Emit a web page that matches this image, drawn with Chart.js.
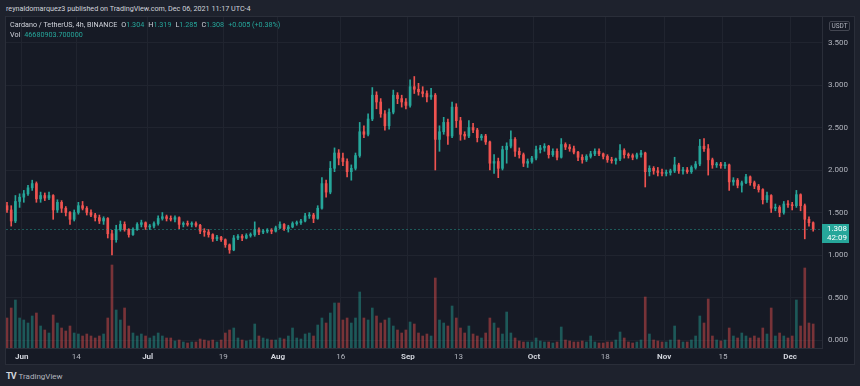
<!DOCTYPE html>
<html>
<head>
<meta charset="utf-8">
<title>ADA/USDT</title>
<script src="https://cdn.jsdelivr.net/npm/chart.js@4.4.0/dist/chart.umd.min.js"></script>
<style>
  html, body { margin: 0; padding: 0; background: #1e222d; }
  body { width: 860px; height: 386px; position: relative; overflow: hidden; font-family: Roboto, "Open Sans", sans-serif; }
  #pane { position: absolute; left: 5px; top: 16px; width: 850px; height: 349px; box-sizing: border-box; background: #161a25; border: 1px solid #2a2e39; }
  #chart { position: absolute; left: 6px; top: 17px; }
  .hdr { position: absolute; left: 6px; top: 4px; font-size: 7.2px; color: #d1d4dc; white-space: nowrap; }
  .legend { position: absolute; left: 10px; top: 20px; font-size: 7.2px; line-height: 10px; color: #d1d4dc; white-space: nowrap; }
  .legend .v { color: #26a69a; }
  .legend .g { margin-left: 4px; }
  .usdt { position: absolute; left: 829px; top: 21px; width: 19px; height: 8px; border: 1px solid #434651; border-radius: 2px; font-size: 6.5px; line-height: 8px; text-align: center; color: #b2b5be; }
  .brand { position: absolute; left: 6px; top: 371px; font-size: 8px; color: #b2b5be; white-space: nowrap; }
  .brand b { color: #d1d4dc; font-size: 9px; letter-spacing: -1px; margin-right: 3px; }
</style>
</head>
<body>
<div id="pane"></div>
<canvas id="chart" width="848" height="347"></canvas>
<div class="hdr">reynaldomarquez3 published on TradingView.com, Dec 06, 2021 11:17 UTC-4</div>
<div class="legend">
  <div>Cardano / TetherUS, 4h, BINANCE<span class="g">O</span><span class="v">1.304</span><span class="g">H</span><span class="v">1.319</span><span class="g">L</span><span class="v">1.285</span><span class="g">C</span><span class="v">1.308</span><span class="v g">+0.005 (+0.38%)</span></div>
  <div>Vol<span class="v g">46680903.700000</span></div>
</div>
<div class="usdt">USDT</div>
<div class="brand"><b>TV</b>TradingView</div>
<script>
// daily candles, first one is May 28 2021 (day -4 counted from Jun 1)
const firstDay = -4;

const opens = [
  1.58,1.53,1.40,1.63,1.68,1.72,1.79,1.84,1.66,1.70, 1.67,1.70,1.53,1.62,1.55,1.50,1.42,1.50,1.58,1.55,
  1.50,1.47,1.44,1.40,1.43,1.25,1.18,1.30,1.36,1.30, 1.24,1.30,1.36,1.38,1.33,1.34,1.37,1.43,1.45,1.43,
  1.42,1.44,1.36,1.37,1.36,1.37,1.35,1.28,1.27,1.24, 1.19,1.21,1.18,1.12,1.06,1.20,1.22,1.20,1.23,1.24,
  1.30,1.27,1.28,1.29,1.28,1.32,1.36,1.31,1.33,1.37, 1.38,1.40,1.46,1.47,1.43,1.55,1.84,1.74,2.02,
  2.20,2.14,2.10,1.98,2.02,2.17,2.45,2.42,2.60,2.88, 2.80,2.66,2.52,2.68,2.88,2.84,2.80,2.76,2.98,2.95,
  2.92,2.90,2.86,2.88,2.36,2.45,2.56,2.40,2.74,2.58, 2.42,2.40,2.50,2.47,2.38,2.40,2.33,2.08,2.10,
  2.02,2.24,2.28,2.36,2.22,2.18,2.08,2.10,2.14,2.24, 2.26,2.28,2.18,2.22,2.15,2.30,2.27,2.25,2.21,2.15,
  2.12,2.16,2.19,2.22,2.19,2.16,2.12,2.11,2.13,2.23, 2.18,2.17,2.15,2.18,2.20,1.98,2.02,1.99,1.97,
  1.96,1.97,1.99,2.06,1.99,2.00,1.98,2.03,2.07,2.28, 2.25,2.12,2.06,2.07,2.05,2.06,1.86,1.88,1.82,1.85,
  1.92,1.85,1.81,1.77,1.65,1.70,1.55,1.56,1.50,1.60, 1.59,1.58,1.71,1.58,1.42,1.38
];
const highs = [
  1.62,1.58,1.70,1.72,1.76,1.82,1.88,1.86,1.74,1.73, 1.74,1.71,1.65,1.64,1.57,1.51,1.53,1.62,1.63,1.57,
  1.53,1.49,1.47,1.45,1.44,1.29,1.35,1.40,1.39,1.31, 1.32,1.38,1.41,1.39,1.36,1.39,1.46,1.50,1.47,1.46,
  1.46,1.45,1.39,1.40,1.39,1.39,1.36,1.31,1.30,1.25, 1.23,1.22,1.19,1.13,1.23,1.24,1.24,1.25,1.26,1.39,
  1.32,1.30,1.31,1.31,1.34,1.39,1.37,1.35,1.39,1.40, 1.42,1.49,1.50,1.49,1.58,1.91,1.88,2.10,2.26,
  2.24,2.20,2.13,2.06,2.20,2.56,2.52,2.66,2.97,2.92, 2.84,2.70,2.72,2.94,2.91,2.88,2.84,3.06,3.10,3.02,
  2.98,2.93,2.96,2.90,2.52,2.62,2.60,2.80,2.78,2.62, 2.45,2.58,2.55,2.49,2.42,2.42,2.34,2.18,2.14,
  2.28,2.32,2.46,2.38,2.26,2.20,2.13,2.16,2.28,2.29, 2.31,2.29,2.25,2.25,2.37,2.32,2.30,2.28,2.22,2.18,
  2.18,2.22,2.25,2.25,2.20,2.18,2.15,2.14,2.30,2.25, 2.20,2.19,2.20,2.23,2.21,2.05,2.04,2.03,2.01,
  2.00,2.01,2.15,2.08,2.03,2.03,2.05,2.10,2.36,2.37, 2.30,2.14,2.09,2.09,2.09,2.07,1.91,1.90,1.87,1.95,
  1.93,1.87,1.83,1.78,1.74,1.71,1.60,1.58,1.63,1.64, 1.62,1.76,1.72,1.60,1.45,1.39
];
const lows = [
  1.50,1.34,1.38,1.56,1.62,1.70,1.76,1.62,1.62,1.64, 1.65,1.42,1.50,1.50,1.46,1.36,1.40,1.48,1.53,1.47,
  1.45,1.40,1.37,1.36,1.20,1.00,1.15,1.28,1.28,1.21, 1.23,1.29,1.33,1.30,1.30,1.32,1.35,1.41,1.40,1.40,
  1.39,1.31,1.33,1.34,1.33,1.33,1.25,1.22,1.21,1.16, 1.17,1.16,1.09,1.02,1.05,1.18,1.17,1.19,1.21,1.22,
  1.24,1.25,1.26,1.25,1.27,1.31,1.29,1.27,1.32,1.35, 1.36,1.39,1.43,1.38,1.42,1.54,1.68,1.72,1.98,
  2.06,2.05,1.92,1.88,2.00,2.15,2.38,2.40,2.58,2.72, 2.62,2.47,2.48,2.66,2.78,2.74,2.72,2.74,2.90,2.88,
  2.86,2.80,2.83,2.00,2.22,2.42,2.30,2.38,2.50,2.35, 2.36,2.38,2.44,2.33,2.35,2.30,2.00,1.96,1.91,
  2.00,2.08,2.26,2.16,2.14,2.04,2.03,2.08,2.12,2.20, 2.22,2.14,2.16,2.12,2.14,2.24,2.22,2.19,2.11,2.08,
  2.10,2.14,2.17,2.17,2.13,2.09,2.08,2.07,2.11,2.14, 2.14,2.12,2.13,2.15,1.80,1.93,1.95,1.93,1.93,
  1.93,1.94,1.97,1.96,1.95,1.96,1.96,2.01,2.05,2.22, 1.94,2.02,2.03,2.02,2.02,1.76,1.82,1.79,1.74,1.84,
  1.82,1.78,1.74,1.60,1.62,1.50,1.52,1.45,1.48,1.56, 1.53,1.56,1.52,1.19,1.34,1.28
];
const closes = [
  1.53,1.40,1.63,1.68,1.72,1.79,1.84,1.66,1.70,1.67, 1.70,1.53,1.62,1.55,1.50,1.42,1.50,1.58,1.55,1.50,
  1.47,1.44,1.40,1.43,1.25,1.18,1.30,1.36,1.30,1.24, 1.30,1.36,1.38,1.33,1.34,1.37,1.43,1.45,1.43,1.42,
  1.44,1.36,1.37,1.36,1.37,1.35,1.28,1.27,1.24,1.19, 1.21,1.18,1.12,1.06,1.20,1.22,1.20,1.23,1.24,1.30,
  1.27,1.28,1.29,1.28,1.32,1.36,1.31,1.33,1.37,1.38, 1.40,1.46,1.47,1.43,1.55,1.84,1.74,2.02,2.20,
  2.14,2.10,1.98,2.02,2.17,2.45,2.42,2.60,2.88,2.80, 2.66,2.52,2.68,2.88,2.84,2.80,2.76,2.98,2.95,2.92,
  2.90,2.86,2.88,2.36,2.45,2.56,2.40,2.74,2.58,2.42, 2.40,2.50,2.47,2.38,2.40,2.33,2.08,2.10,2.02,
  2.24,2.28,2.36,2.22,2.18,2.08,2.10,2.14,2.24,2.26, 2.28,2.18,2.22,2.15,2.30,2.27,2.25,2.21,2.15,2.12,
  2.16,2.19,2.22,2.19,2.16,2.12,2.11,2.13,2.23,2.18, 2.17,2.15,2.18,2.20,1.98,2.02,1.99,1.97,1.96,
  1.97,1.99,2.06,1.99,2.00,1.98,2.03,2.07,2.28,2.25, 2.12,2.06,2.07,2.05,2.06,1.86,1.88,1.82,1.85,1.92,
  1.85,1.81,1.77,1.65,1.70,1.55,1.56,1.50,1.60,1.59, 1.58,1.71,1.58,1.42,1.38,1.308
];
// volume in millions
const volumes = [
  150,200,240,150,140,125,160,175,110,90, 75,165,125,100,85,110,75,70,60,70,
  60,50,60,70,150,415,190,140,200,110, 75,60,70,60,50,60,75,60,50,50,
  35,40,30,25,30,30,45,40,35,40, 30,40,75,90,100,50,40,35,40,120,
  60,50,45,40,40,50,45,60,100,50, 45,70,75,60,115,150,125,175,225,
  225,140,150,125,150,280,150,140,200,160, 125,140,150,110,90,75,90,130,120,75,
  60,70,60,350,140,125,110,210,150,100, 75,110,70,60,50,75,150,125,100,
  70,180,75,50,35,30,30,30,50,35, 30,30,25,30,105,40,35,30,30,35,
  30,60,30,25,25,30,30,40,80,50, 30,25,30,40,255,70,40,35,30,
  30,40,110,40,30,30,40,60,160,125, 245,60,40,35,40,100,60,50,75,60,
  50,60,50,100,70,200,60,75,60,50, 60,240,110,400,125,120
];

// time axis: days from Jun 1
const tickDays = [0, 13, 30, 48, 61, 76, 92, 104, 122, 139, 153, 167, 183];
const tickLabels = ['Jun', '14', 'Jul', '19', 'Aug', '16', 'Sep', '13', 'Oct', '18', 'Nov', '15', 'Dec'];
const priceTicks = [0, 0.5, 1, 1.5, 2, 2.5, 3, 3.5];

const UP = '#26a69a';
const DOWN = '#ef5350';
const UP_VOL = 'rgba(38, 166, 154, 0.45)';
const DOWN_VOL = 'rgba(239, 83, 80, 0.45)';

Chart.defaults.font.family = 'Roboto, "Open Sans", sans-serif';

const xs = closes.map((c, i) => firstDay + i + 0.5);
const isUp = closes.map((c, i) => c >= opens[i]);

function isMonthTick(ctx) {
  if (!ctx.tick) return false;
  return isNaN(tickLabels[tickDays.indexOf(ctx.tick.value)]);
}

// dashed last price line + the green price tag on the axis
const lastPricePlugin = {
  id: 'lastPrice',
  afterDatasetsDraw(chart) {
    const { ctx, chartArea, scales } = chart;
    const y = Math.round(scales.y.getPixelForValue(closes[closes.length - 1])) + 0.5;
    ctx.save();
    ctx.setLineDash([2, 2]);
    ctx.strokeStyle = 'rgba(38, 166, 154, 0.45)';
    ctx.lineWidth = 1;
    ctx.beginPath();
    ctx.moveTo(chartArea.left, y);
    ctx.lineTo(chartArea.right, y);
    ctx.stroke();
    ctx.restore();
  },
  afterDraw(chart) {
    const { ctx, chartArea, scales } = chart;
    const y = Math.round(scales.y.getPixelForValue(closes[closes.length - 1]));
    ctx.save();
    ctx.fillStyle = UP;
    ctx.fillRect(chartArea.right, y - 5, 27, 19);
    ctx.fillStyle = '#ffffff';
    ctx.font = '8px Roboto';
    ctx.textBaseline = 'middle';
    ctx.fillText(closes[closes.length - 1].toFixed(3), chartArea.right + 5, y);
    ctx.fillText('42:09', chartArea.right + 5, y + 9);
    ctx.restore();
  }
};

new Chart(document.getElementById('chart'), {
  type: 'bar',
  data: {
    datasets: [
      {
        label: 'Body',
        data: xs.map((x, i) => ({ x: x, y: [opens[i], closes[i]] })),
        backgroundColor: isUp.map(u => u ? UP : DOWN),
        barThickness: 2,
        minBarLength: 1,
        grouped: false,
        order: 1,
        yAxisID: 'y'
      },
      {
        label: 'Wick',
        data: xs.map((x, i) => ({ x: x, y: [lows[i], highs[i]] })),
        backgroundColor: isUp.map(u => u ? UP : DOWN),
        barThickness: 1,
        grouped: false,
        order: 2,
        yAxisID: 'y'
      },
      {
        label: 'Vol',
        data: xs.map((x, i) => ({ x: x, y: volumes[i] })),
        backgroundColor: isUp.map(u => u ? UP_VOL : DOWN_VOL),
        barThickness: 2,
        grouped: false,
        order: 3,
        yAxisID: 'yv'
      }
    ]
  },
  options: {
    responsive: false,
    animation: false,
    events: [],
    layout: { padding: 0 },
    plugins: {
      legend: { display: false },
      tooltip: { enabled: false }
    },
    scales: {
      x: {
        type: 'linear',
        offset: false,
        min: -3.74,
        max: 190.6,
        afterBuildTicks: (scale) => {
          scale.ticks = tickDays.map(v => ({ value: v }));
        },
        afterFit: (scale) => {
          scale.height = 16;
          scale.paddingLeft = 0;
          scale.paddingRight = 0;
        },
        grid: { color: '#20242f', drawTicks: false, offset: false },
        border: { color: '#2a2e39' },
        ticks: {
          autoSkip: false,
          maxRotation: 0,
          padding: 4,
          callback: (value) => tickLabels[tickDays.indexOf(value)],
          color: (ctx) => isMonthTick(ctx) ? '#d1d4dc' : '#b2b5be',
          font: (ctx) => ({ size: 8, weight: isMonthTick(ctx) ? 'bold' : 'normal' })
        }
      },
      y: {
        position: 'right',
        min: -0.0941,
        max: 3.8,
        afterBuildTicks: (scale) => {
          scale.ticks = priceTicks.map(v => ({ value: v }));
        },
        afterFit: (scale) => {
          scale.width = 32;
          scale.paddingTop = 0;
          scale.paddingBottom = 0;
        },
        grid: { color: '#20242f', drawTicks: false },
        border: { color: '#2a2e39' },
        ticks: {
          padding: 6,
          color: '#b2b5be',
          font: { size: 8 },
          callback: (value) => value.toFixed(3)
        }
      },
      yv: {
        display: false,
        min: 0,
        max: 1655
      }
    }
  },
  plugins: [lastPricePlugin]
});
</script>
</body>
</html>
